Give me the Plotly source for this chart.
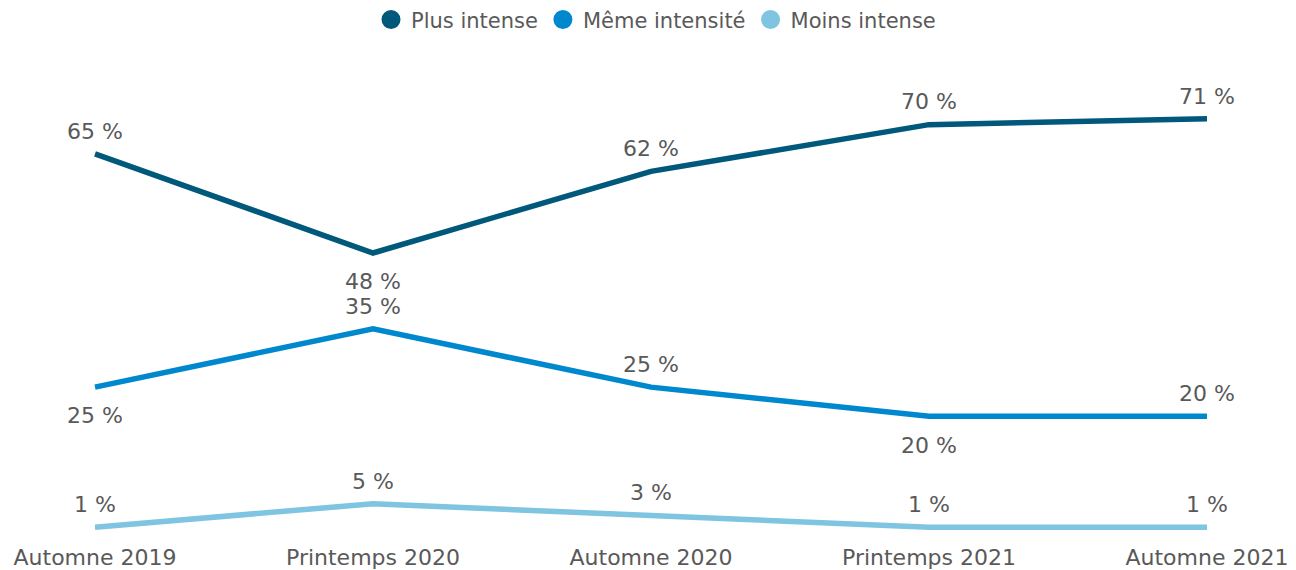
import plotly.graph_objects as go

categories = ["Automne 2019", "Printemps 2020", "Automne 2020", "Printemps 2021", "Automne 2021"]
plus_intense = [65, 48, 62, 70, 71]
meme_intensite = [25, 35, 25, 20, 20]
moins_intense = [1, 5, 3, 1, 1]

names = ["Plus intense", "Même intensité", "Moins intense"]
colors = ["#00587A", "#0088CE", "#7FC4E0"]
series = [plus_intense, meme_intensite, moins_intense]
positions = [
    ["top center", "bottom center", "top center", "top center", "top center"],
    ["bottom center", "top center", "top center", "bottom center", "top center"],
    ["top center"] * 5,
]

txt_color = "#595959"
font = "DejaVu Sans, Verdana, sans-serif"
fs = 22

fig = go.Figure()
for name, col, vals, pos in zip(names, colors, series, positions):
    sizes = [30 if p.startswith("bottom") else 14 for p in pos]
    fig.add_trace(go.Scatter(
        x=categories, y=vals, mode="lines+markers+text",
        line=dict(color=col, width=5.5),
        marker=dict(size=sizes, color=col, opacity=0),
        text=[f"{v} %" for v in vals], textposition=pos,
        textfont=dict(size=fs, color=txt_color, family=font),
        showlegend=False, hoverinfo="skip", cliponaxis=False,
    ))
for name, col in zip(names, colors):
    fig.add_trace(go.Scatter(
        x=[None], y=[None], mode="markers", name=name,
        marker=dict(size=20, color=col, symbol="circle", line=dict(color=col, width=3)),
    ))

fig.update_layout(
    width=1296, height=570,
    margin=dict(l=0, r=0, t=42, b=48, autoexpand=False),
    paper_bgcolor="white", plot_bgcolor="white",
    font=dict(family=font, size=fs, color=txt_color),
    legend=dict(orientation="h", x=0.5, xanchor="center", y=1.063, yanchor="middle",
                yref="paper", font=dict(size=21, color=txt_color),
                itemwidth=30, tracegroupgap=0),
    xaxis=dict(range=[-0.313, 4.349], showgrid=False, zeroline=False, showline=False,
               tickfont=dict(size=fs, color=txt_color), ticks="", ticklabelstandoff=12),
    yaxis=dict(range=[0.51, 82.8], visible=False, showgrid=False, zeroline=False),
)

fig.write_html("out.html")
